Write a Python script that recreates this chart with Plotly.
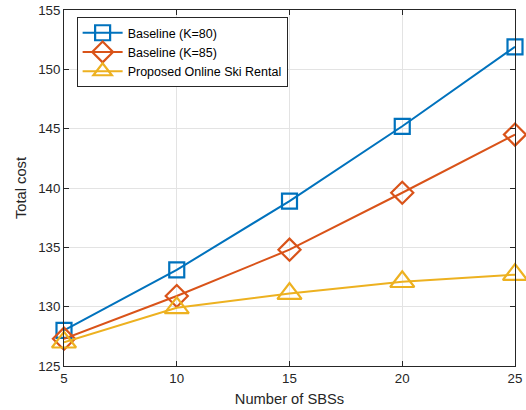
import plotly.graph_objects as go

# Number of small base stations on the x axis
num_sbs = [5, 10, 15, 20, 25]

# Total cost for each scheme
baseline_k80 = [128.0, 133.1, 138.9, 145.2, 151.9]
baseline_k85 = [127.3, 130.9, 134.8, 139.6, 144.5]
online_ski_rental = [127.0, 129.9, 131.1, 132.1, 132.7]

series = [
    ("Baseline (K=80)", baseline_k80, "#0072BD", "square-open", 15),
    ("Baseline (K=85)", baseline_k85, "#D95319", "diamond-open", 17),
    ("Proposed Online Ski Rental", online_ski_rental, "#EDB120", "triangle-up-open", 21),
]

fig = go.Figure()
for name, vals, color, symbol, size in series:
    fig.add_trace(go.Scatter(
        x=num_sbs, y=vals, name=name, mode="lines+markers",
        line=dict(color=color, width=2),
        marker=dict(symbol=symbol, size=size, color=color,
                    line=dict(color=color, width=2.2)),
        cliponaxis=False,
    ))

axis_common = dict(
    showline=True, linecolor="#262626", linewidth=1, mirror="allticks",
    ticks="inside", ticklen=5, tickcolor="#262626", tickwidth=1,
    showgrid=True, gridcolor="#e3e3e3", gridwidth=1, zeroline=False,
    automargin=False,
    tickfont=dict(family="Liberation Sans, Arial", size=13.3, color="#262626"),
)

fig.update_xaxes(
    range=[5, 25], tickvals=[5, 10, 15, 20, 25],
    title=dict(text="Number of SBSs", standoff=8,
               font=dict(family="Liberation Sans, Arial", size=14.7, color="#262626")),
    **axis_common,
)
fig.update_yaxes(
    range=[125, 155], tickvals=[125, 130, 135, 140, 145, 150, 155],
    title=dict(text="Total cost", standoff=8,
               font=dict(family="Liberation Sans, Arial", size=14.7, color="#262626")),
    **axis_common,
)

fig.update_layout(
    width=526, height=410,
    margin=dict(l=64, r=11, t=10, b=44),
    plot_bgcolor="white", paper_bgcolor="white",
    font=dict(family="Liberation Sans, Arial", color="#262626"),
    legend=dict(
        x=0.028, y=0.98, xanchor="left", yanchor="top",
        bgcolor="white", bordercolor="#262626", borderwidth=1,
        font=dict(family="Liberation Sans, Arial", size=12.5, color="#000000"),
        tracegroupgap=0, itemwidth=40,
    ),
    showlegend=True,
)

fig.write_html("out.html")
